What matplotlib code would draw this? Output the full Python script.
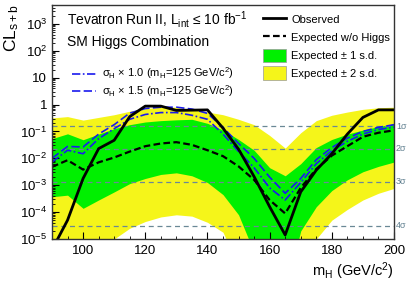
import matplotlib
matplotlib.use("Agg")
import matplotlib.pyplot as plt
from matplotlib.lines import Line2D
from matplotlib.patches import Patch
from matplotlib.ticker import FixedLocator, LogLocator, NullFormatter
import numpy as np

plt.rcParams['font.family'] = ['Liberation Sans', 'DejaVu Sans']
plt.rcParams['mathtext.fontset'] = 'custom'
plt.rcParams['mathtext.rm'] = 'Liberation Sans'
plt.rcParams['mathtext.it'] = 'Liberation Sans'
plt.rcParams['mathtext.default'] = 'regular'

# Higgs mass points (GeV/c^2)
mass = [90, 95, 100, 105, 110, 115, 120, 125, 130, 135, 140, 145,
        150, 155, 160, 165, 170, 175, 180, 185, 190, 195, 200]

# log10(CLs+b)
obs_log = [-5.4, -4.3, -2.75, -1.64, -1.33, -0.45, -0.06, -0.06, -0.22, -0.21, -0.2, -0.88,
           -1.66, -2.68, -3.8, -4.85, -3.25, -2.44, -1.83, -1.1, -0.48, -0.2, -0.2]
exp_log = [-2.32, -2.07, -2.42, -2.15, -1.97, -1.75, -1.55, -1.45, -1.40, -1.50, -1.70, -1.92,
           -2.3, -2.8, -3.55, -4.05, -3.1, -2.4, -1.9, -1.55, -1.2, -1.05, -0.96]
sig10_log = [-2.14, -1.70, -1.83, -1.27, -0.9, -0.55, -0.37, -0.3, -0.3, -0.4, -0.55, -1.1,
             -1.75, -2.35, -3.1, -3.55, -2.9, -2.2, -1.72, -1.37, -1.1, -0.93, -0.84]
sig15_log = [-2.0, -1.56, -1.58, -1.1, -0.75, -0.32, -0.15, -0.1, -0.1, -0.17, -0.33, -0.85,
             -1.45, -2.0, -2.7, -3.3, -2.75, -2.05, -1.6, -1.25, -1.0, -0.85, -0.75]
g_hi_log = [-1.27, -1.09, -1.31, -1.1, -0.9, -0.75, -0.65, -0.6, -0.57, -0.55, -0.7, -0.95,
            -1.3, -1.7, -2.35, -2.65, -2.2, -1.6, -1.3, -1.1, -0.95, -0.82, -0.72]
g_lo_log = [-3.43, -3.37, -3.86, -3.55, -3.25, -2.94, -2.75, -2.6, -2.54, -2.65, -2.9, -3.35,
            -4.1, -5.5, -6.5, -7.0, -4.7, -3.8, -3.2, -2.8, -2.5, -2.3, -2.14]
y_hi_log = [-0.5, -0.45, -0.58, -0.48, -0.38, -0.25, -0.15, -0.1, -0.1, -0.18, -0.28, -0.38,
            -0.55, -0.75, -1.15, -1.62, -1.05, -0.6, -0.4, -0.28, -0.18, -0.12, -0.1]
y_lo_log = [-6.0, -6.0, -6.0, -5.6, -5.0, -4.6, -4.35, -4.18, -4.1, -4.15, -4.38, -4.75,
            -6.0, -7.0, -7.0, -7.0, -6.0, -5.0, -4.3, -3.9, -3.55, -3.3, -3.12]

# one-sided significance levels
sig_levels = [0.1587, 0.02275, 0.00135, 3.17e-5]
sig_labels = ['1σ', '2σ', '3σ', '4σ']

m = np.array(mass)
p = lambda v: 10.0 ** np.array(v)

fig = plt.figure(figsize=(4.15, 2.83), dpi=100)
ax = fig.add_axes([52 / 415, 1 - 239 / 283, 342 / 415, 234 / 283])

ax.fill_between(m, p(y_lo_log), p(y_hi_log), color='#f5f51a', lw=0)
ax.fill_between(m, p(g_lo_log), p(g_hi_log), color='#00f000', lw=0)

for lev, lab in zip(sig_levels, sig_labels):
    ax.axhline(lev, color='#6a8896', lw=0.9, ls=(0, (4, 3)))
    ax.text(1.006, lev, lab, transform=ax.get_yaxis_transform(), color='#5f7f8f',
            fontsize=6.5, va='center', ha='left')

ax.plot(m, p(exp_log), color='black', lw=1.6, ls=(0, (3, 1.5)))
ax.plot(m, p(sig10_log), color='#1a1aee', lw=1.2, ls=(0, (5, 1.5, 1, 1.5)))
ax.plot(m, p(sig15_log), color='#1a1aee', lw=1.2, ls=(0, (5, 2)))
ax.plot(m, p(obs_log), color='black', lw=2.0)

ax.set_yscale('log')
ax.set_xlim(90, 200)
ax.set_ylim(1e-5, 5e3)

ax.set_xticks([100, 120, 140, 160, 180, 200])
ax.xaxis.set_minor_locator(FixedLocator(np.arange(90, 201, 5)))
ax.set_yticks([1e-5, 1e-4, 1e-3, 1e-2, 1e-1, 1, 10, 100, 1000])
ax.set_yticklabels(['10$^{-5}$', '10$^{-4}$', '10$^{-3}$', '10$^{-2}$', '10$^{-1}$',
                    '1', '10', '10$^{2}$', '10$^{3}$'])
ax.yaxis.set_minor_locator(LogLocator(base=10, subs=np.arange(2, 10), numticks=20))
ax.yaxis.set_minor_formatter(NullFormatter())
ax.tick_params(which='both', direction='in', top=False, right=False, labelsize=9.5)
ax.tick_params(which='major', length=5)
ax.tick_params(which='minor', length=2.5)
ax.tick_params(axis='x', pad=4)
for s in ax.spines.values():
    s.set_color('#333333')
    s.set_linewidth(1.0)

fig.text(12 / 415, 1 - 4 / 283, 'CL$_{s+b}$', rotation=90, ha='center', va='top', fontsize=12.5)
fig.text(394 / 415, 1 - 271 / 283, 'm$_H$ (GeV/c$^2$)', ha='right', va='center', fontsize=10.5)

ax.text(0.043, 0.94, 'Tevatron Run II, L$_{int}$ ≤ 10 fb$^{-1}$', transform=ax.transAxes,
        fontsize=10, va='center')
ax.text(0.043, 0.84, 'SM Higgs Combination', transform=ax.transAxes, fontsize=10, va='center')

blue_handles = [Line2D([], [], color='#1a1aee', lw=1.2, ls=(0, (5, 1.5, 1, 1.5))),
                Line2D([], [], color='#1a1aee', lw=1.2, ls=(0, (5, 2)))]
blue_labels = ['σ$_H$ × 1.0 (m$_H$=125 GeV/c$^2$)', 'σ$_H$ × 1.5 (m$_H$=125 GeV/c$^2$)']
leg1 = ax.legend(blue_handles, blue_labels, loc='upper left', bbox_to_anchor=(0.045, 0.76),
                 frameon=False, fontsize=8, handlelength=2.2, handletextpad=0.5,
                 labelspacing=0.15, borderaxespad=0)
ax.add_artist(leg1)

main_handles = [Line2D([], [], color='black', lw=2.0),
                Line2D([], [], color='black', lw=1.6, ls=(0, (3, 1.5))),
                Patch(facecolor='#00f000', edgecolor='#999999', lw=0.5),
                Patch(facecolor='#f5f51a', edgecolor='#999999', lw=0.5)]
main_labels = ['Observed', 'Expected w/o Higgs', 'Expected ± 1 s.d.', 'Expected ± 2 s.d.']
ax.legend(main_handles, main_labels, loc='upper left', bbox_to_anchor=(0.605, 0.985),
          frameon=False, fontsize=8, handlelength=2.0, handleheight=1.5,
          handletextpad=0.5, labelspacing=0.38, borderaxespad=0)

fig.savefig('out.png', dpi=100)
